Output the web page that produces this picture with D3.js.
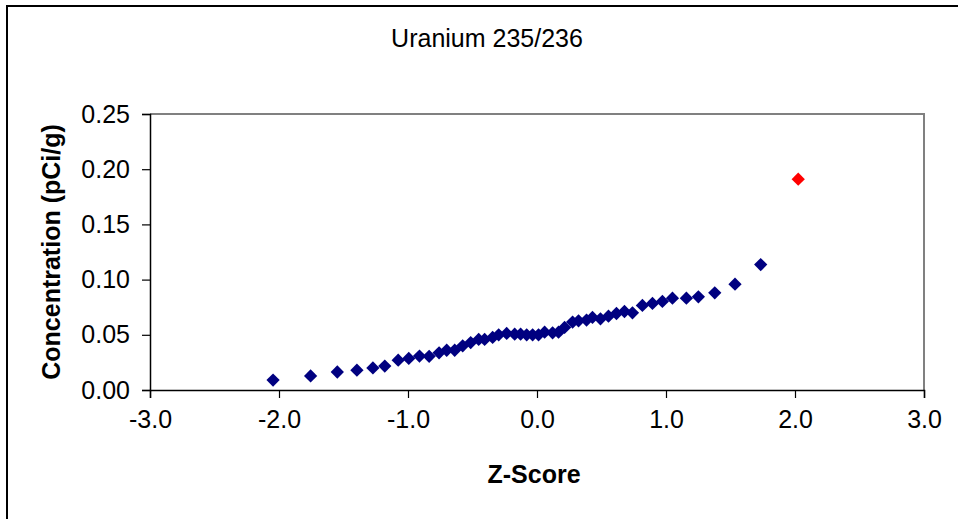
<!DOCTYPE html>
<html>
<head>
<meta charset="utf-8">
<script src="https://cdn.jsdelivr.net/npm/d3@7"></script>
<style>
  html, body { margin: 0; padding: 0; background: #fff; }
  svg { display: block; }
  text { font-family: "Liberation Sans", Arial, sans-serif; fill: #000; }
</style>
</head>
<body>
<svg id="chart" width="958" height="519"></svg>
<script>
// ---- Data ----
const title = "Uranium 235/236";
const xLabel = "Z-Score";
const yLabel = "Concentration (pCi/g)";
const xTicks = [-3, -2, -1, 0, 1, 2, 3];
const yTicks = [0, 0.05, 0.10, 0.15, 0.20, 0.25];

const zScores = [
  -2.046, -1.755, -1.548, -1.396, -1.272, -1.180, -1.076, -0.994, -0.911, -0.836,
  -0.759, -0.700, -0.638, -0.576, -0.514, -0.452, -0.406, -0.344, -0.297, -0.235,
  -0.173, -0.127, -0.080, -0.034, 0.012, 0.059, 0.121, 0.167, 0.214, 0.276,
  0.322, 0.384, 0.430, 0.492, 0.554, 0.616, 0.678, 0.740, 0.817, 0.895,
  0.972, 1.050, 1.158, 1.251, 1.378, 1.535, 1.734
];
const concentrations = [
  0.0090, 0.0127, 0.0163, 0.0180, 0.0200, 0.0217, 0.0270, 0.0286, 0.0307, 0.0305,
  0.0337, 0.0360, 0.0360, 0.0400, 0.0430, 0.0458, 0.0458, 0.0476, 0.0500, 0.0512,
  0.0506, 0.0506, 0.0500, 0.0500, 0.0500, 0.0524, 0.0518, 0.0524, 0.0567, 0.0615,
  0.0627, 0.0633, 0.0657, 0.0645, 0.0669, 0.0693, 0.0711, 0.0699, 0.0766, 0.0784,
  0.0802, 0.0832, 0.0832, 0.0844, 0.0880, 0.0958, 0.1136
];
const outlierZ = [2.025];
const outlierConc = [0.191];

// ---- Layout ----
const svg = d3.select("#chart");
const plot = { left: 150, right: 924, top: 114, bottom: 390 };
const FS = 25;

const x = d3.scaleLinear().domain([-3, 3]).range([plot.left, plot.right]);
const y = d3.scaleLinear().domain([0, 0.25]).range([plot.bottom, plot.top]);

// hyphen-minus formatting like the original
const fmtX = d => d.toFixed(1);
const fmtY = d => d.toFixed(2);

// outer chart frame
svg.append("rect")
  .attr("x", 7).attr("y", 6).attr("width", 1200).attr("height", 1200)
  .attr("fill", "none").attr("stroke", "#000").attr("stroke-width", 2);

// plot area frame (top/right grey)
svg.append("path")
  .attr("d", `M${plot.left},${plot.top}H${plot.right}V${plot.bottom}`)
  .attr("fill", "none").attr("stroke", "#808080").attr("stroke-width", 2);

// title
svg.append("text")
  .attr("x", 487).attr("y", 47)
  .attr("text-anchor", "middle")
  .style("font-size", FS + "px")
  .text(title);

// x axis
const xAxis = d3.axisBottom(x)
  .tickValues(xTicks)
  .tickSize(8)
  .tickPadding(12)
  .tickFormat(fmtX);
const gx = svg.append("g")
  .attr("transform", `translate(0,${plot.bottom})`)
  .call(xAxis);
gx.select(".domain").attr("stroke", "#000").attr("stroke-width", 1.5);
gx.selectAll(".tick line").attr("stroke", "#000").attr("stroke-width", 1.2);
gx.selectAll(".tick text")
  .style("font-size", FS + "px")
  .style("font-family", '"Liberation Sans", Arial, sans-serif')
  .attr("fill", "#000");

// y axis
const yAxis = d3.axisLeft(y)
  .tickValues(yTicks)
  .tickSize(8)
  .tickPadding(12)
  .tickFormat(fmtY);
const gy = svg.append("g")
  .attr("transform", `translate(${plot.left},0)`)
  .call(yAxis);
gy.select(".domain").attr("stroke", "#000").attr("stroke-width", 1.5);
gy.selectAll(".tick line").attr("stroke", "#000").attr("stroke-width", 1.2);
gy.selectAll(".tick text")
  .style("font-size", FS + "px")
  .style("font-family", '"Liberation Sans", Arial, sans-serif')
  .attr("fill", "#000");

// axis titles
svg.append("text")
  .attr("x", 534).attr("y", 483)
  .attr("text-anchor", "middle")
  .style("font-size", FS + "px")
  .style("font-weight", "bold")
  .text(xLabel);

svg.append("text")
  .attr("transform", `translate(60,${(plot.top + plot.bottom) / 2}) rotate(-90)`)
  .attr("text-anchor", "middle")
  .style("font-size", FS + "px")
  .style("font-weight", "bold")
  .text(yLabel);

// markers: diamonds (rotated squares)
const diamond = d3.symbol().type(d3.symbolSquare).size(88);
const mainData = zScores.map((z, i) => ({ z, c: concentrations[i] }));
const outData = outlierZ.map((z, i) => ({ z, c: outlierConc[i] }));

svg.append("g").selectAll("path")
  .data(mainData).join("path")
  .attr("d", diamond)
  .attr("transform", d => `translate(${x(d.z)},${y(d.c)}) rotate(45)`)
  .attr("fill", "#000080");

svg.append("g").selectAll("path")
  .data(outData).join("path")
  .attr("d", diamond)
  .attr("transform", d => `translate(${x(d.z)},${y(d.c)}) rotate(45)`)
  .attr("fill", "#FF0000");
</script>
</body>
</html>
